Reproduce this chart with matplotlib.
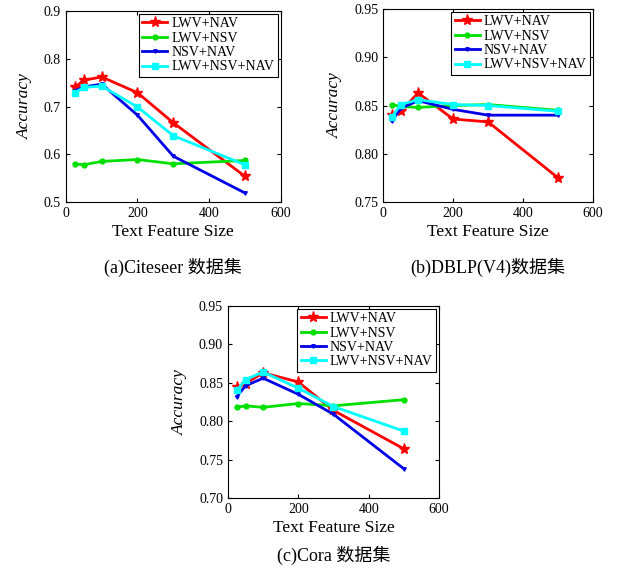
import numpy as np
import matplotlib.pyplot as plt

plt.rcParams['font.family'] = ['Liberation Serif', 'Noto Sans CJK SC']

# feature sizes (x axis)
sizes = [25, 50, 100, 200, 300, 500]
labels = ['LWV+NAV', 'LWV+NSV', 'NSV+NAV', 'LWV+NSV+NAV']

# (a) Citeseer
cite_lwv_nav = [0.740, 0.755, 0.762, 0.729, 0.666, 0.554]
cite_lwv_nsv = [0.580, 0.578, 0.585, 0.589, 0.580, 0.587]
cite_nsv_nav = [0.733, 0.741, 0.747, 0.682, 0.596, 0.519]
cite_all = [0.729, 0.740, 0.743, 0.699, 0.639, 0.578]

# (b) DBLP(V4)
dblp_lwv_nav = [0.840, 0.844, 0.863, 0.836, 0.833, 0.775]
dblp_lwv_nsv = [0.851, 0.849, 0.848, 0.850, 0.851, 0.845]
dblp_nsv_nav = [0.834, 0.847, 0.855, 0.846, 0.840, 0.840]
dblp_all = [0.838, 0.851, 0.856, 0.851, 0.850, 0.844]

# (c) Cora
cora_lwv_nav = [0.844, 0.849, 0.863, 0.851, 0.814, 0.764]
cora_lwv_nsv = [0.818, 0.820, 0.818, 0.823, 0.820, 0.828]
cora_nsv_nav = [0.832, 0.846, 0.856, 0.835, 0.809, 0.738]
cora_all = [0.840, 0.854, 0.864, 0.843, 0.819, 0.787]

styles = [
    dict(color='#ff0000', marker='*', markersize=8),
    dict(color='#00e000', marker='.', markersize=7),
    dict(color='#0000e6', marker='v', markersize=2.5),
    dict(color='#00ffff', marker='s', markersize=5),
]

fig = plt.figure(figsize=(6.21, 5.70), dpi=100)


def panel(rect, series, ylim, yticks, yfmt, caption, cap_y):
    ax = fig.add_axes(rect)
    for ys, st, lab in zip(series, styles, labels):
        ax.plot(sizes, ys, linewidth=2, label=lab, **st)
    ax.set_xlim(0, 600)
    ax.set_xticks([0, 200, 400, 600])
    ax.set_ylim(*ylim)
    ax.set_yticks(yticks)
    ax.set_yticklabels([yfmt.format(v) for v in yticks])
    ax.tick_params(direction='in', top=True, right=True, labelsize=10, length=3)
    ax.set_xlabel('Text Feature Size', fontsize=12.5, labelpad=3)
    ax.set_ylabel('Accuracy', fontsize=12.5, style='italic', labelpad=8)
    leg = ax.legend(loc='upper right', fontsize=10, fancybox=False,
                    framealpha=1, edgecolor='black', borderaxespad=0.2,
                    handlelength=1.8, handletextpad=0.3, labelspacing=0.1,
                    borderpad=0.25)
    leg.get_frame().set_linewidth(0.8)
    x0 = rect[0] + rect[2] / 2
    fig.text(x0, cap_y, caption, ha='center', va='center', fontsize=13)
    return ax


panel([0.106, 0.6456, 0.346, 0.335],
      [cite_lwv_nav, cite_lwv_nsv, cite_nsv_nav, cite_all],
      (0.5, 0.9), [0.5, 0.6, 0.7, 0.8, 0.9], '{:.1f}',
      '(a)Citeseer 数据集', 0.530)

panel([0.617, 0.6456, 0.338, 0.3386],
      [dblp_lwv_nav, dblp_lwv_nsv, dblp_nsv_nav, dblp_all],
      (0.75, 0.95), [0.75, 0.80, 0.85, 0.90, 0.95], '{:.2f}',
      '(b)DBLP(V4)数据集', 0.530)

panel([0.367, 0.1263, 0.340, 0.337],
      [cora_lwv_nav, cora_lwv_nsv, cora_nsv_nav, cora_all],
      (0.70, 0.95), [0.70, 0.75, 0.80, 0.85, 0.90, 0.95], '{:.2f}',
      '(c)Cora 数据集', 0.025)

fig.savefig('out.png', dpi=100)
